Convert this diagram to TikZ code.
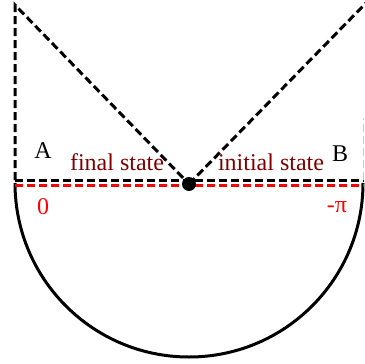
\documentclass[tikz,border=0pt]{standalone}
\usepackage{fontspec}
\setmainfont{Liberation Serif}
\begin{document}
\begin{tikzpicture}[x=1pt,y=-1pt,
  dline/.style={line width=3pt,dash pattern=on 8pt off 4pt},
  rline/.style={line width=3pt,red,dash pattern=on 8pt off 4pt},
  lbl/.style={font=\fontsize{24}{26}\selectfont,inner sep=0pt},
  dred/.style={text=red!50!black}]
\useasboundingbox (0,0) rectangle (364,364);
\coordinate (TL) at (15,5);
\coordinate (BL) at (15,180);
\coordinate (BR) at (364,180);
\coordinate (TR) at (367,2);
\coordinate (RL) at (15,185);
\coordinate (RR) at (364,185);
\coordinate (O) at (189,184);
% semicircle
\draw[line width=3pt] (15,183) arc[start angle=180,end angle=360,x radius=174,y radius=-174];
\draw[dline] (BL) -- (TL) -- (O);
\draw[dline] (O) -- (TR);
\draw[dline] (BL) -- (BR);
\draw[line width=1pt,gray!40,dash pattern=on 8pt off 4pt] (363,180) -- (363,118);
\draw[rline] (RL) -- (RR);
\node[circle,fill=black,minimum size=14pt,inner sep=0pt] (dot) at (O) {};
\node[lbl] (A) at (43,151) {A};
\node[lbl] (B) at (340,154) {B};
\node[lbl,dred] (fs) at (117,162) {final state};
\node[lbl,dred] (is) at (271,162) {initial state};
\node[lbl,text=red] (z) at (43,207) {0};
\node[lbl,text=red] (pi) at (337,207) {-π};
\end{tikzpicture}
\end{document}
